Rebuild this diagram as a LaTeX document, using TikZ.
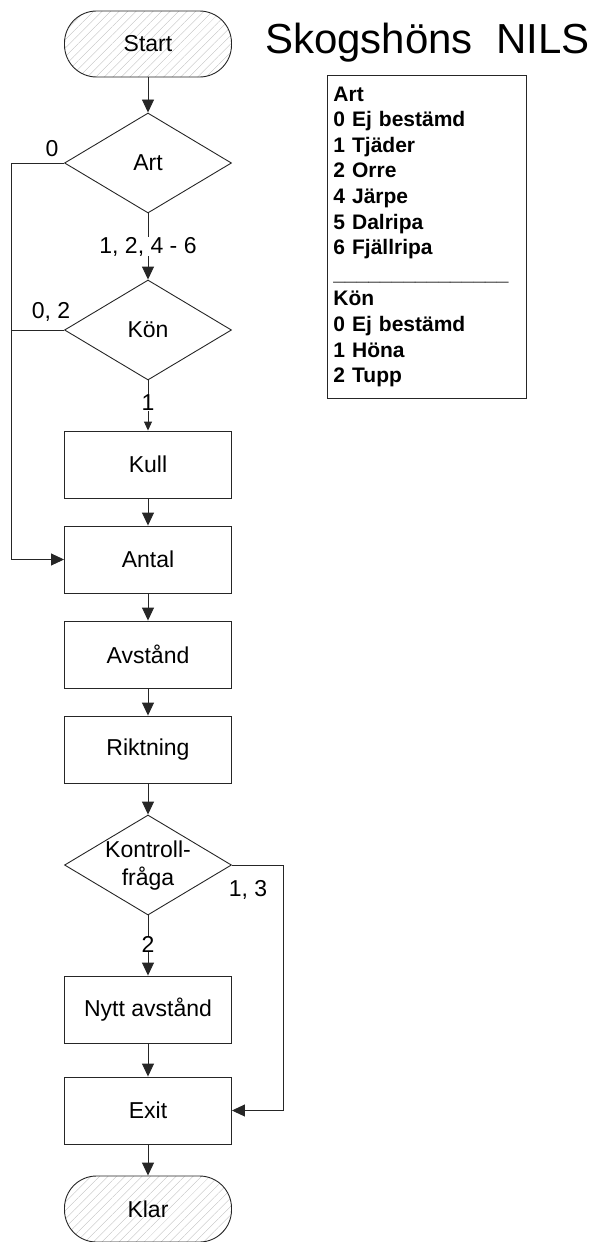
\documentclass[tikz,border=0pt]{standalone}
\usepackage{fontspec}
\setmainfont{Liberation Sans}
\usetikzlibrary{shapes.geometric,arrows.meta,patterns.meta}
\begin{document}
\begin{tikzpicture}[x=1pt,y=-1pt,
  line/.style={draw=black!85, line width=0.9pt},
  arr/.style={line, -{Triangle[length=13pt,width=12pt]}},
  arrsmall/.style={line, -{Triangle[length=9pt,width=8pt]}},
  txt/.style={font=\fontsize{23}{28}\selectfont},
  term/.style={line, txt, rounded corners=32pt, minimum width=167pt, minimum height=66pt, inner sep=0pt,
    pattern={Lines[angle=45,distance=6pt,line width=0.35pt]}, pattern color=black!25},
  proc/.style={line, txt, rectangle, minimum width=167pt, minimum height=67pt, inner sep=0pt},
  dec/.style={line, txt, diamond, minimum width=167pt, minimum height=100pt, inner sep=0pt},
  lab/.style={txt, fill=white, inner xsep=1pt, inner ysep=0pt},
  flab/.style={txt, inner sep=0pt}
]
\useasboundingbox (0,0) rectangle (596,1242);

% title
\node[anchor=base west, inner sep=0pt, font=\fontsize{42}{48}\selectfont] (title) at (265,53) {Skogshöns\ \ NILS};

% legend
\node[line, anchor=north west, minimum width=199pt, minimum height=323pt, text width=187pt, inner xsep=6pt, align=left,
  font=\fontsize{21}{25.6}\selectfont\bfseries] (legend) at (327,75)
  {Art\\0 Ej bestämd\\1 Tjäder\\2 Orre\\4 Järpe\\5 Dalripa\\6 Fjällripa\\\_\_\_\_\_\_\_\_\_\_\_\_\_\_\_\\Kön\\0 Ej bestämd\\1 Höna\\2 Tupp};

% flow
\node[term] (start) at (148,44) {Start};
\node[dec] (art) at (148,163) {Art};
\node[dec] (kon) at (148,330) {Kön};
\node[proc] (kull) at (148,464.5) {Kull};
\node[proc] (antal) at (148,559.5) {Antal};
\node[proc] (avst) at (148,654.5) {Avstånd};
\node[proc] (rikt) at (148,749.5) {Riktning};
\node[dec] (kf) at (148,865) {};
\node[txt, align=center, inner sep=0pt] (kft) at (148,866) {Kontroll-\\fråga};
\node[proc] (nytt) at (148,1009.5) {Nytt avstånd};
\node[proc] (exit) at (148,1110.5) {Exit};
\node[term] (klar) at (148,1209) {Klar};

% connectors
\draw[arr] (start) -- (art);
\draw[arr] (art) -- node[lab] {1, 2, 4 - 6} (kon);
\draw[arrsmall] (kon) -- node[lab, pos=0.45] {1} (kull);
\draw[arr] (kull) -- (antal);
\draw[arr] (antal) -- (avst);
\draw[arr] (avst) -- (rikt);
\draw[arr] (rikt) -- (kf);
\draw[arr] (kf) -- node[lab, pos=0.48] {2} (nytt);
\draw[arr] (nytt) -- (exit);
\draw[arr] (exit) -- (klar);

\coordinate (lt) at (11,163);
\coordinate (rt) at (283,865);
\draw[arr] (art.west) -- (lt) |- (antal.west);
\draw[line] (kon.west) -- (kon.west -| lt);
\draw[arr] (kf.east) -- (rt) |- (exit.east);

\node[flab] (l0) at (52,149) {0};
\node[flab] (l02) at (51,312) {0, 2};
\node[flab] (l13) at (248,890) {1, 3};
\end{tikzpicture}
\end{document}
